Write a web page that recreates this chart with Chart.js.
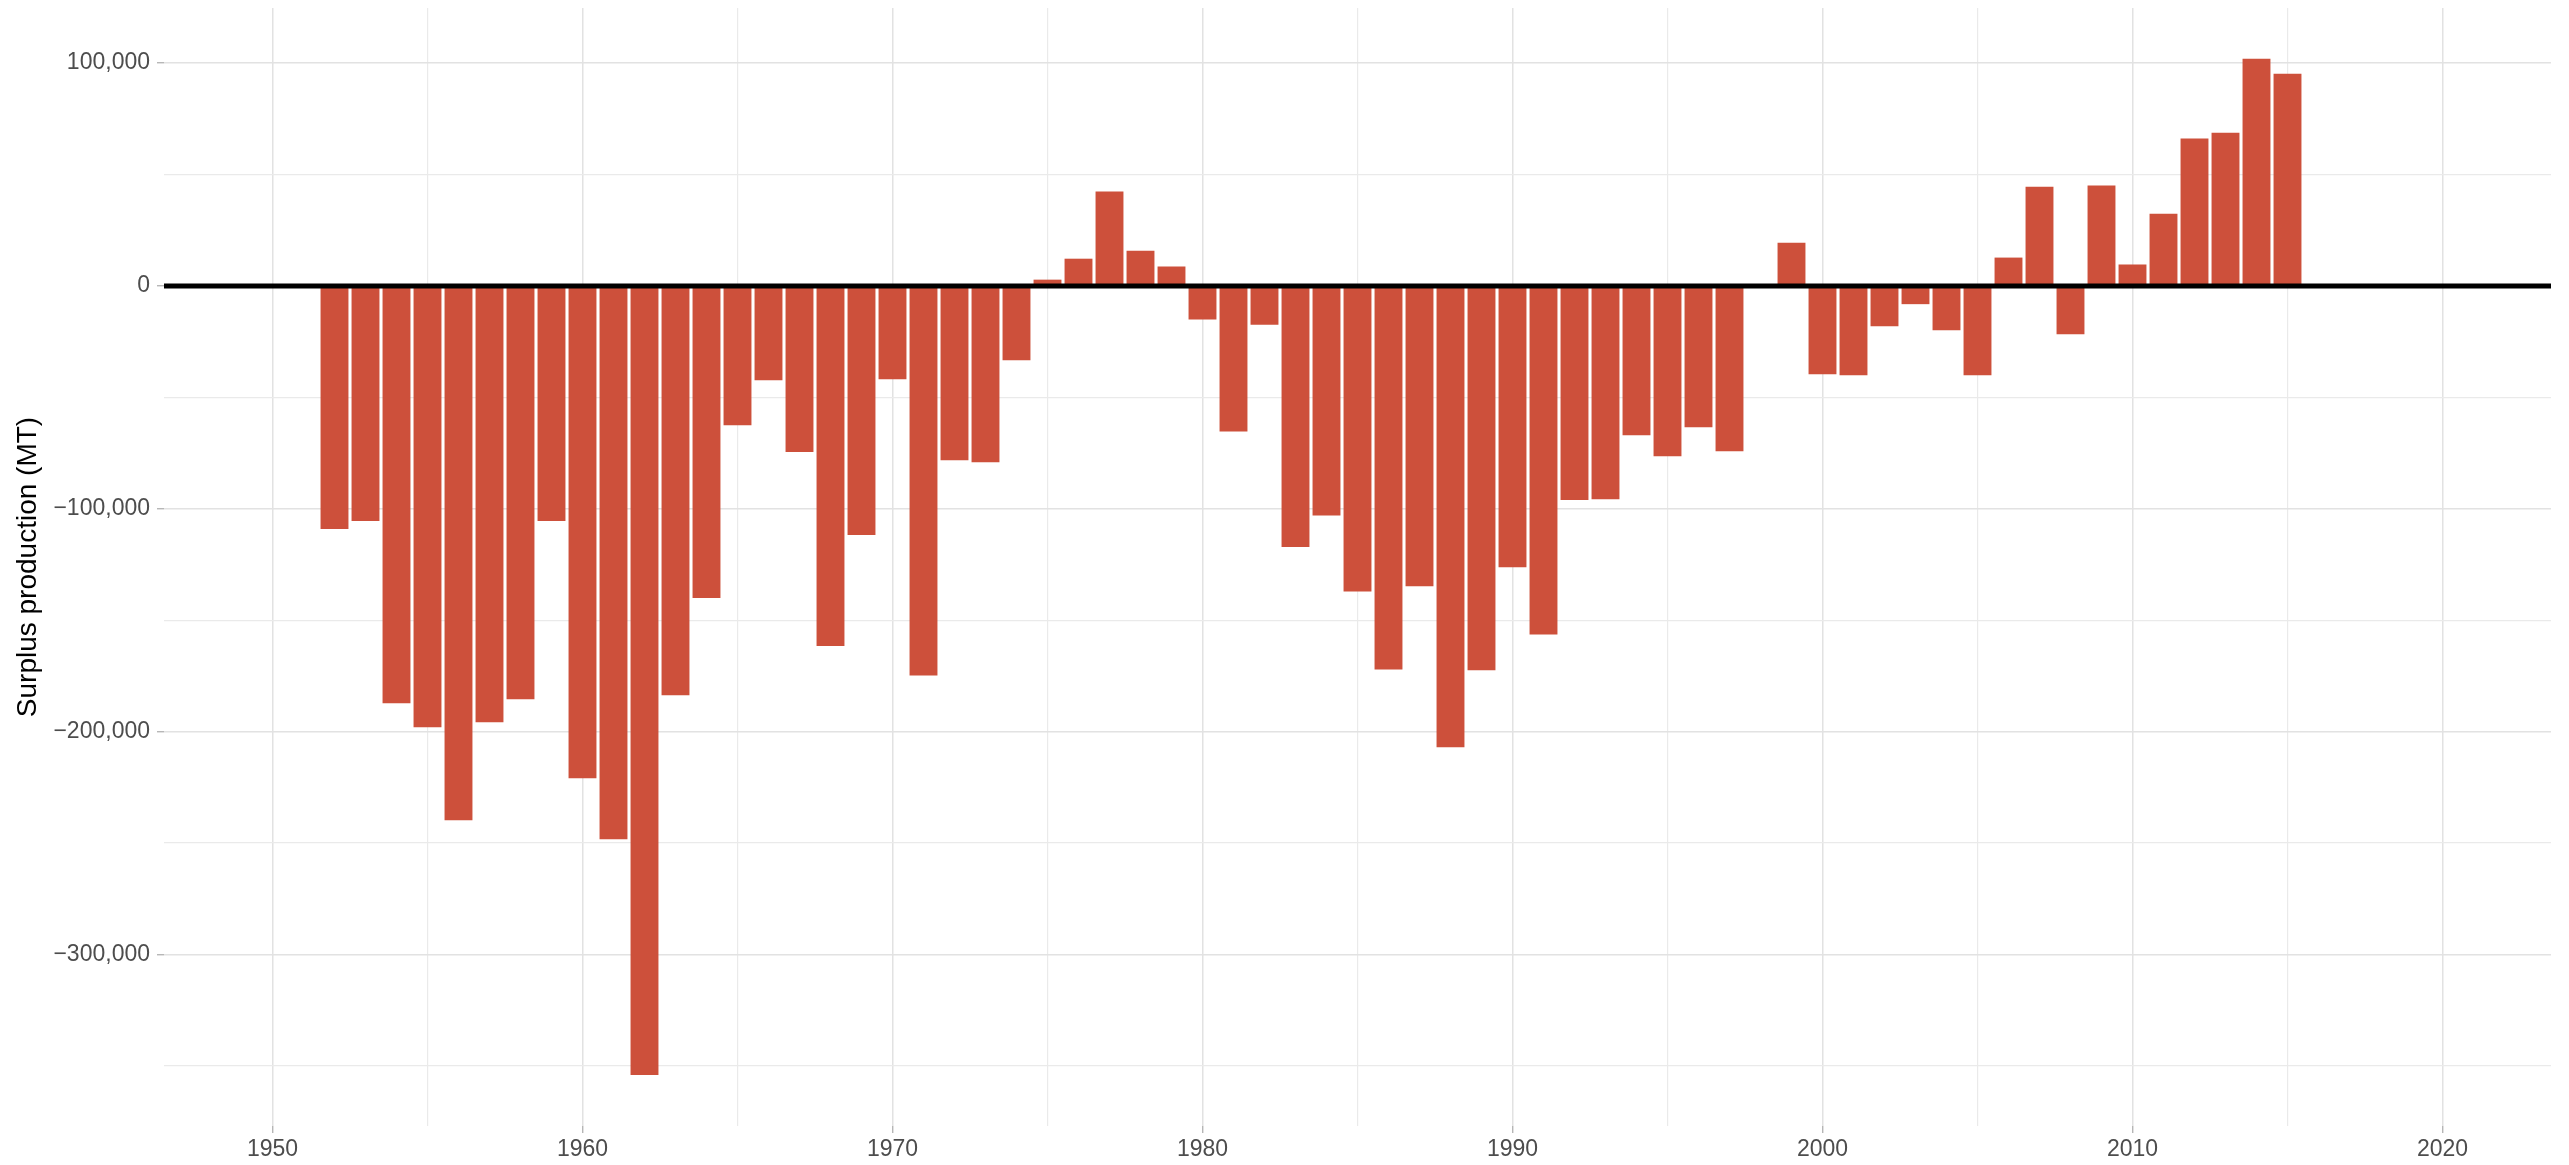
<!DOCTYPE html>
<html>
<head>
<meta charset="utf-8">
<script src="https://cdn.jsdelivr.net/npm/chart.js@4.4.1/dist/chart.umd.min.js"></script>
<style>
  body { margin: 0; background: #ffffff; }
  #wrap { width: 2569px; height: 1165px; }
</style>
</head>
<body>
<div id="wrap"><canvas id="myChart"></canvas></div>
<script>

// data

var years = [1952, 1953, 1954, 1955, 1956, 1957, 1958, 1959, 1960, 1961,
  1962, 1963, 1964, 1965, 1966, 1967, 1968, 1969, 1970, 1971,
  1972, 1973, 1974, 1975, 1976, 1977, 1978, 1979, 1980, 1981,
  1982, 1983, 1984, 1985, 1986, 1987, 1988, 1989, 1990, 1991,
  1992, 1993, 1994, 1995, 1996, 1997, 1998, 1999, 2000, 2001,
  2002, 2003, 2004, 2005, 2006, 2007, 2008, 2009, 2010, 2011,
  2012, 2013, 2014, 2015];

var surplus = [-109100, -105500, -187300, -198100, -239800, -195800, -185500, -105500, -220900, -248300,
  -354100, -183700, -140100, -62500, -42300, -74600, -161600, -111800, -41900, -174800,
  -78200, -79100, -33400, 2800, 12200, 42300, 15800, 8700, -15100, -65300,
  -17400, -117200, -103000, -137100, -172100, -134800, -207000, -172500, -126300, -156400,
  -96100, -95700, -67000, -76400, -63400, -74200, 0, 19400, -39600, -40100,
  -18100, -8200, -19900, -40100, 12700, 44500, -21700, 45000, 9600, 32400,
  66100, 68700, 101900, 95200];

// axis limits and ticks
var xLimits = [1946.5, 2023.5];
var yLimits = [-377000, 124700];

var xGridValues = [1950, 1955, 1960, 1965, 1970, 1975, 1980, 1985, 1990, 1995, 2000, 2005, 2010, 2015, 2020];
var xTickValues = [1950, 1960, 1970, 1980, 1990, 2000, 2010, 2020];
var xTickLabels = ["1950", "1960", "1970", "1980", "1990", "2000", "2010", "2020"];

var yGridValues = [-350000, -300000, -250000, -200000, -150000, -100000, -50000, 0, 50000, 100000];
var yTickValues = [-300000, -200000, -100000, 0, 100000];
var yTickLabels = ["\u2212300,000", "\u2212200,000", "\u2212100,000", "0", "100,000"];

var barColor = "#CD503B";


function isMajor(list, v) {
  return list.indexOf(v) >= 0;
}

function gridColor(list) {
  return function(ctx) {
    return ctx.tick && isMajor(list, ctx.tick.value) ? "#E2E2E2" : "#EAEAEA";
  };
}

function gridWidth(list) {
  return function(ctx) {
    return ctx.tick && isMajor(list, ctx.tick.value) ? 1.5 : 1.2;
  };
}

function tickColor(list) {
  return function(ctx) {
    return ctx.tick && isMajor(list, ctx.tick.value) ? "#AAAAAA" : "rgba(0,0,0,0)";
  };
}


new Chart("myChart", {

  data: {
    datasets: [{
      type: "bar",
      data: years.map(function(y, i) { return { x: y, y: surplus[i] }; }),
      backgroundColor: barColor,
      borderWidth: 0,
      barPercentage: 0.9,
      categoryPercentage: 1.0,
      order: 2
    }, {
      type: "line",
      data: [{ x: xLimits[0], y: 0 }, { x: xLimits[1], y: 0 }],
      borderColor: "#000000",
      borderWidth: 5,
      pointRadius: 0,
      order: 1
    }]
  },

  options: {
    responsive: true,
    maintainAspectRatio: false,
    devicePixelRatio: 1,
    animation: false,
    layout: { padding: { top: 8, right: 18, left: 0, bottom: 0 } },
    plugins: {
      legend: { display: false },
      tooltip: { enabled: false }
    },
    scales: {
      x: {
        type: "linear",
        min: xLimits[0],
        max: xLimits[1],
        offset: false,
        border: { display: false },
        grid: {
          offset: false,
          color: gridColor(xTickValues),
          lineWidth: gridWidth(xTickValues),
          tickColor: tickColor(xTickValues),
          tickLength: 7,
          tickWidth: 1.2
        },
        ticks: {
          autoSkip: false,
          maxRotation: 0,
          padding: 3,
          color: "#4D4D4D",
          font: { family: "'Liberation Sans', Arial, sans-serif", size: 23 },
          callback: function(v) {
            var i = xTickValues.indexOf(v);
            return i >= 0 ? xTickLabels[i] : "";
          }
        },
        afterBuildTicks: function(scale) {
          scale.ticks = xGridValues.map(function(v) { return { value: v }; });
        },
        afterFit: function(scale) {
          scale.height = 39;
          scale.paddingLeft = 0;
          scale.paddingRight = 0;
        }
      },
      y: {
        type: "linear",
        min: yLimits[0],
        max: yLimits[1],
        border: { display: false },
        grid: {
          color: gridColor(yTickValues),
          lineWidth: gridWidth(yTickValues),
          tickColor: tickColor(yTickValues),
          tickLength: 7,
          tickWidth: 1.2
        },
        ticks: {
          autoSkip: false,
          padding: 7,
          color: "#4D4D4D",
          font: { family: "'Liberation Sans', Arial, sans-serif", size: 23 },
          callback: function(v) {
            var i = yTickValues.indexOf(v);
            return i >= 0 ? yTickLabels[i] : "";
          }
        },
        title: {
          display: true,
          text: "Surplus production (MT)",
          color: "#000000",
          font: { family: "'Liberation Sans', Arial, sans-serif", size: 28 },
          padding: { top: 11, bottom: 0 }
        },
        afterBuildTicks: function(scale) {
          scale.ticks = yGridValues.map(function(v) { return { value: v }; });
        },
        afterFit: function(scale) {
          scale.width = 164;
          scale.paddingTop = 0;
          scale.paddingBottom = 0;
        }
      }
    }
  }

});

</script>
</body>
</html>
